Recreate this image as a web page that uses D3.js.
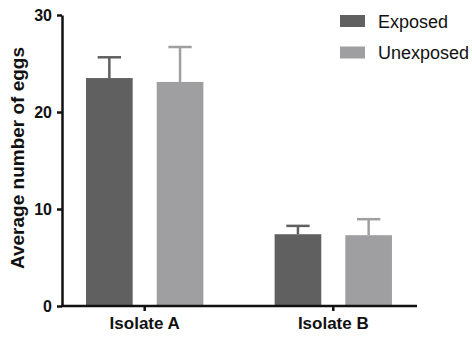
<!DOCTYPE html>
<html>
<head>
<meta charset="utf-8">
<script src="https://cdn.jsdelivr.net/npm/d3@7"></script>
<style>
  body { margin: 0; background: #fff; }
  text { font-family: "Liberation Sans", Arial, sans-serif; }
</style>
</head>
<body>
<div id="main"></div>
<script>
const width = 472;
const height = 337;

const categories = ['Isolate A', 'Isolate B'];
const series = ['Exposed', 'Unexposed'];
const exposedMean = [23.5, 7.4];
const exposedErr = [2.14, 0.86];
const unexposedMean = [23.1, 7.3];
const unexposedErr = [3.6, 1.65];
const yTicks = [0, 10, 20, 30];
const colors = ['#606060', '#9f9fa1'];

const rows = [];
categories.forEach((c, i) => {
    rows.push({cat: c, s: 'Exposed', v: exposedMean[i], e: exposedErr[i]});
    rows.push({cat: c, s: 'Unexposed', v: unexposedMean[i], e: unexposedErr[i]});
});

const svg = d3.select('#main')
    .append('svg')
    .attr('width', width)
    .attr('height', height);

const y = d3.scaleLinear()
    .domain([0, 30])
    .range([306, 15]);

const x = d3.scaleBand()
    .domain(categories)
    .range([50.4, 427.6]);

const xs = d3.scaleBand()
    .domain(series)
    .range([0, x.bandwidth()])
    .paddingInner(0.34)
    .paddingOuter(0.504);

const color = d3.scaleOrdinal().domain(series).range(colors);

// bars
svg.append('g')
    .selectAll('rect')
    .data(rows)
    .enter()
    .append('rect')
    .attr('x', d => x(d.cat) + xs(d.s))
    .attr('y', d => y(d.v))
    .attr('width', xs.bandwidth())
    .attr('height', d => y(0) - y(d.v))
    .attr('fill', d => color(d.s));

// error bars (upper only)
const eb = svg.append('g')
    .selectAll('g')
    .data(rows)
    .enter()
    .append('g')
    .attr('stroke', d => color(d.s))
    .attr('stroke-width', 2.5);

eb.append('line')
    .attr('x1', d => x(d.cat) + xs(d.s) + xs.bandwidth() / 2)
    .attr('x2', d => x(d.cat) + xs(d.s) + xs.bandwidth() / 2)
    .attr('y1', d => y(d.v))
    .attr('y2', d => y(d.v + d.e));

eb.append('line')
    .attr('x1', d => x(d.cat) + xs(d.s) + xs.bandwidth() / 4)
    .attr('x2', d => x(d.cat) + xs(d.s) + xs.bandwidth() * 3 / 4)
    .attr('y1', d => y(d.v + d.e))
    .attr('y2', d => y(d.v + d.e));

// y axis
const yAxis = svg.append('g')
    .attr('transform', 'translate(62,0)')
    .call(d3.axisLeft(y).tickValues(yTicks).tickSize(5).tickSizeOuter(0).tickPadding(5));
yAxis.select('.domain').attr('stroke', '#111').attr('stroke-width', 2.5);
yAxis.selectAll('.tick line').attr('stroke', '#111').attr('stroke-width', 2.5);
yAxis.selectAll('.tick text')
    .attr('fill', '#111')
    .style('font-size', '16px')
    .style('font-weight', 'bold');

// x axis
const xAxis = svg.append('g')
    .attr('transform', 'translate(0,306)')
    .call(d3.axisBottom(x).tickSize(5).tickSizeOuter(0).tickPadding(6));
xAxis.select('.domain')
    .attr('d', 'M61,0H417')
    .attr('stroke', '#111')
    .attr('stroke-width', 2.5);
xAxis.selectAll('.tick line').attr('stroke', '#111').attr('stroke-width', 2.5);
xAxis.selectAll('.tick text')
    .attr('fill', '#111')
    .style('font-size', '17px')
    .style('font-weight', 'bold');

// y title
svg.append('text')
    .attr('transform', 'translate(24,158) rotate(-90)')
    .attr('text-anchor', 'middle')
    .attr('fill', '#111')
    .style('font-size', '19px')
    .style('font-weight', 'bold')
    .text('Average number of eggs');

// legend
const legend = svg.append('g')
    .selectAll('g')
    .data(series)
    .enter()
    .append('g')
    .attr('transform', (d, i) => `translate(340,${15 + i * 31.5})`);

legend.append('rect')
    .attr('width', 25)
    .attr('height', 12)
    .attr('fill', d => color(d));

legend.append('text')
    .attr('x', 38)
    .attr('y', 12.5)
    .attr('fill', '#111')
    .style('font-size', '18px')
    .text(d => d);
</script>
</body>
</html>
